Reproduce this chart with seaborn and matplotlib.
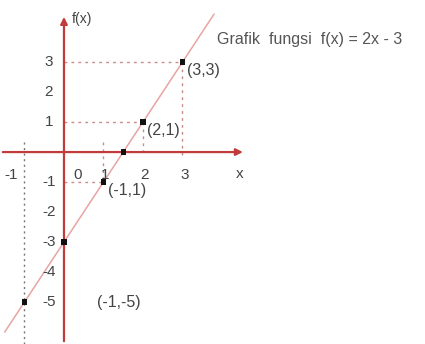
import numpy as np
import pandas as pd
import matplotlib
matplotlib.use("Agg")
import matplotlib.pyplot as plt
import seaborn as sns

# ---------------------------------------------------
# data
# ---------------------------------------------------
point_x = [3, 2, 1.5, 1, 0, -1]
point_y = [3, 1, 0, -1, -3, -5]
point_labels = ["(3,3)", "(2,1)", "", "(-1,1)", "", "(-1,-5)"]

line_x = [-1.5, 3.8]
xtick_vals = [-1, 0, 1, 2, 3]
ytick_vals = [3, 2, 1, -1, -2, -3, -4, -5]
title_text = "Grafik  fungsi  f(x) = 2x - 3"

sns.set_theme(style="white")
plt.rcParams['font.family'] = ['Liberation Sans', 'DejaVu Sans']

fig = plt.figure(figsize=(4.25, 3.44), dpi=100)
ax = fig.add_axes([0, 0, 1, 1])
ax.set_xlim(-1.62, 9.14)
ax.set_ylim(-6.4, 5.07)
ax.axis("off")

axis_red = "#c23b3b"
dot_col = "#c98a8a"
txt_col = "#444444"

# axes with arrows
ax.annotate("", xy=(0, 4.6), xytext=(0, -6.4),
            arrowprops=dict(arrowstyle="-|>", color=axis_red, lw=1.6,
                            mutation_scale=10))
ax.annotate("", xy=(4.6, 0), xytext=(-1.62, 0),
            arrowprops=dict(arrowstyle="-|>", color=axis_red, lw=1.6,
                            mutation_scale=10))

# dotted guide lines
dl = dict(color=dot_col, lw=1.0, ls=(0, (2, 3)))
ax.plot([0, point_x[0]], [point_y[0]] * 2, **dl)
ax.plot([point_x[0]] * 2, [point_y[0], -0.15], **dl)
ax.plot([0, point_x[1]], [point_y[1]] * 2, **dl)
ax.plot([point_x[1]] * 2, [point_y[1], 0], **dl)
ax.plot([0, point_x[3]], [point_y[3]] * 2, **dl)
ax.plot([point_x[3]] * 2, [0.35, point_y[3]], **dl)
ax.plot([point_x[5]] * 2, [0.35, -6.4], color="#777777", lw=1.0, ls=(0, (1.5, 2.5)))

# the line f(x) = 2x - 3
line_df = pd.DataFrame({"x": line_x, "y": [2 * v - 3 for v in line_x]})
sns.lineplot(data=line_df, x="x", y="y", ax=ax, color="#e8a4a4", lw=1.1)

# points
pts = pd.DataFrame({"x": point_x, "y": point_y})
sns.scatterplot(data=pts, x="x", y="y", ax=ax, marker="s", s=14,
                color="#111111", edgecolor="none", zorder=5)

for px, py, lab in zip(point_x, point_y, point_labels):
    if not lab:
        continue
    if lab == "(-1,-5)":
        off = (52, 0)
    else:
        off = (3, -6)
    ax.annotate(lab, (px, py), xytext=off, textcoords="offset points",
                fontsize=11.5, color=txt_col, va="center", ha="left")

# tick labels
for v in xtick_vals:
    nudge = {-1: -0.35, 0: 0.35}.get(v, 0.05)
    ax.text(v + nudge, -0.75, str(v), fontsize=11, color=txt_col,
            ha="center", va="center")
for v in ytick_vals:
    ax.text(-0.38, v, str(v), fontsize=11, color=txt_col,
            ha="center", va="center")

ax.text(0.45, 4.45, "f(x)", fontsize=10, color=txt_col, ha="center", va="center")
ax.text(4.45, -0.72, "x", fontsize=11, color=txt_col, ha="center", va="center")
ax.text(3.87, 3.75, title_text, fontsize=11.5, color="#555555",
        ha="left", va="center")

fig.savefig("out.png", dpi=100)
